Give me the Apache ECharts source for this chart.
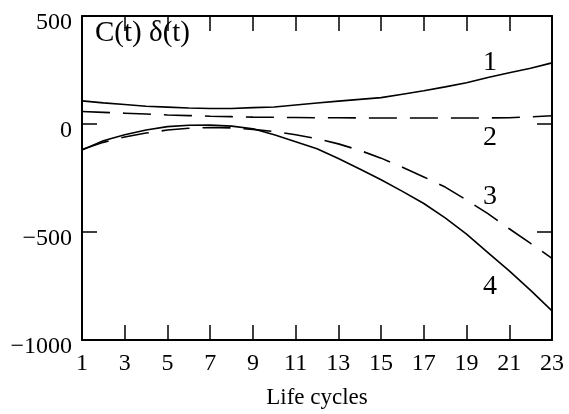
<!DOCTYPE html>
<html>
<head>
<meta charset="utf-8">
<script src="https://cdn.jsdelivr.net/npm/echarts@6/dist/echarts.min.js"></script>
<style>
  html, body { margin: 0; padding: 0; background: #fff; }
  #chart { width: 569px; height: 414px; }
</style>
</head>
<body>
<div id="chart"></div>
<script>
  // life cycles 1..23
  const cycles = ['1','2','3','4','5','6','7','8','9','10','11','12','13','14','15','16','17','18','19','20','21','22','23']
  const curve1 = [107, 98, 90, 82, 78, 74, 72, 72, 76, 79, 88, 97, 106, 114, 122, 138, 154, 172, 191, 215, 237, 258, 283]
  const curve2 = [58, 54, 50, 46, 42, 39, 36, 34, 32, 31, 30, 29, 29, 28, 28, 28, 28, 28, 28, 28, 29, 33, 38]
  const curve3 = [-118, -85, -60, -42, -28, -20, -16, -18, -25, -35, -50, -68, -92, -122, -158, -200, -245, -292, -352, -415, -485, -553, -622]
  const curve4 = [-120, -78, -50, -28, -12, -6, -5, -10, -22, -50, -82, -115, -160, -208, -258, -312, -368, -435, -510, -595, -680, -770, -865]
  const yTicks = [-1000, -500, 0, 500]

  const font = '"Liberation Serif", "Times New Roman", serif'
  const chart = echarts.init(document.getElementById('chart'))

  function curveLabel(text, val, dy) {
    return {
      symbol: 'circle',
      symbolSize: 0,
      silent: true,
      label: {
        show: true,
        formatter: text,
        color: '#000',
        fontFamily: font,
        fontSize: 28,
        position: 'inside',
        offset: [2, dy]
      },
      data: [{ coord: ['20', val] }]
    }
  }

  function line(name, data, dashed, mark) {
    return {
      name: name,
      type: 'line',
      data: data,
      showSymbol: false,
      silent: true,
      animation: false,
      lineStyle: {
        color: '#000',
        width: 1.6,
        type: dashed ? [28, 13] : 'solid'
      },
      markPoint: mark
    }
  }

  const axisLine = { show: true, onZero: false, lineStyle: { color: '#000', width: 2 } }
  const tick = { show: true, inside: true, length: 15, lineStyle: { color: '#000', width: 1.5 } }

  let option = {
    animation: false,
    grid: { left: 82, right: 17, top: 16, bottom: 71 },
    xAxis: [
      {
        type: 'category',
        data: cycles,
        boundaryGap: false,
        position: 'bottom',
        name: 'Life cycles',
        nameLocation: 'middle',
        nameGap: 46,
        nameTextStyle: { color: '#000', fontFamily: font, fontSize: 23 },
        axisLine: axisLine,
        axisTick: Object.assign({ interval: 1 }, tick),
        axisLabel: { interval: 1, color: '#000', fontFamily: font, fontSize: 24, margin: 12 },
        splitLine: { show: false }
      },
      {
        type: 'category',
        data: cycles,
        boundaryGap: false,
        position: 'top',
        axisLine: axisLine,
        axisTick: Object.assign({ interval: 1 }, tick),
        axisLabel: { show: false },
        splitLine: { show: false }
      }
    ],
    yAxis: [
      {
        type: 'value',
        min: yTicks[0],
        max: yTicks[yTicks.length - 1],
        interval: 500,
        position: 'left',
        axisLine: axisLine,
        axisTick: tick,
        axisLabel: {
          color: '#000',
          fontFamily: font,
          fontSize: 24,
          margin: 10,
          verticalAlign: 'top',
          lineHeight: 14,
          formatter: (v) => String(v).replace('-', '\u2212')
        },
        splitLine: { show: false }
      },
      {
        type: 'value',
        min: yTicks[0],
        max: yTicks[yTicks.length - 1],
        interval: 500,
        position: 'right',
        axisLine: axisLine,
        axisTick: tick,
        axisLabel: { show: false },
        splitLine: { show: false }
      }
    ],
    graphic: [
      {
        type: 'text',
        left: 95,
        top: 19,
        style: { text: 'C(t) \u03b4(t)', fill: '#000', font: '29px ' + font }
      }
    ],
    series: [
      line('1', curve1, false, curveLabel('1', curve1[19], -15)),
      line('2', curve2, true, curveLabel('2', curve2[19], 20)),
      line('3', curve3, true, curveLabel('3', curve3[19], -17)),
      line('4', curve4, false, curveLabel('4', curve4[19], 34))
    ]
  }

  chart.setOption(option)
</script>
</body>
</html>
